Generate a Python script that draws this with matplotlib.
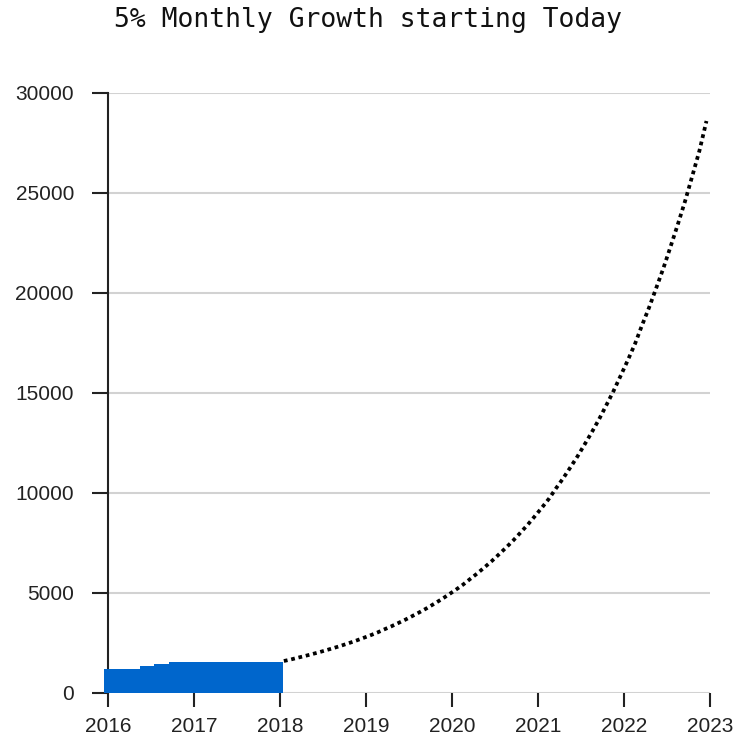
import pandas as pd
import matplotlib
matplotlib.use('Agg')
import matplotlib.pyplot as plt
import matplotlib.dates as mdates

plt.rcParams['font.family'] = ['Liberation Sans', 'DejaVu Sans']

# actual (monthly, blue area)
hist_months = pd.date_range('2015-12-15', periods=26, freq=pd.DateOffset(months=1))
hist_values = [1200, 1200, 1200, 1200, 1200, 1350, 1350, 1450, 1450,
               1550, 1550, 1550, 1550, 1550, 1550, 1550, 1550, 1550,
               1550, 1550, 1550, 1550, 1550, 1550, 1550, 1550]

# projection (5% monthly growth, dotted)
proj_months = pd.date_range('2018-01-17', periods=60, freq=pd.DateOffset(months=1))
proj_values = [1600, 1680, 1764, 1852, 1945, 2042, 2144, 2251, 2364, 2482,
               2606, 2737, 2873, 3017, 3168, 3326, 3493, 3667, 3851, 4043,
               4245, 4458, 4680, 4914, 5160, 5418, 5689, 5973, 6272, 6586,
               6915, 7261, 7624, 8005, 8405, 8825, 9267, 9730, 10217, 10728,
               11264, 11827, 12419, 13040, 13692, 14376, 15095, 15850, 16642, 17474,
               18348, 19266, 20229, 21240, 22302, 23418, 24588, 25818, 27109, 28600]

yticks = [0, 5000, 10000, 15000, 20000, 25000, 30000]

fig = plt.figure(figsize=(7.35, 7.44), dpi=100)
ax = fig.add_axes([108 / 735, 1 - 693 / 744, (710 - 108) / 735, 600 / 744])

ax.fill_between(hist_months, hist_values, step='post', color='#0066cc',
                linewidth=0, clip_on=False, zorder=3)
ax.plot(proj_months, proj_values, color='black', linewidth=2.7,
        linestyle=(0, (1.0, 1.0)), zorder=4, clip_on=False)

ax.set_xlim(pd.Timestamp('2016-01-01'), pd.Timestamp('2023-01-01'))
ax.set_ylim(0, 30000)
ax.set_yticks(yticks)
ax.xaxis.set_major_locator(mdates.YearLocator())
ax.xaxis.set_major_formatter(mdates.DateFormatter('%Y'))

ax.grid(axis='y', color='#d2d2d2', linewidth=1.5, zorder=0)
ax.set_axisbelow(True)
for s in ['top', 'right', 'bottom']:
    ax.spines[s].set_visible(False)
ax.spines['left'].set_linewidth(1.5)
ax.spines['left'].set_color('#222222')

ax.tick_params(axis='y', length=11.5, width=1.5, color='#222222',
               labelsize=15, pad=13, labelcolor='#222222')
ax.tick_params(axis='x', length=10, width=1.5, color='#222222',
               labelsize=15, pad=7, labelcolor='#222222')

fig.text(0.5, 1 - 20 / 744, '5% Monthly Growth starting Today',
         ha='center', va='center', fontsize=19, family='DejaVu Sans Mono',
         color='#111111')

plt.savefig('out.png', dpi=100)
